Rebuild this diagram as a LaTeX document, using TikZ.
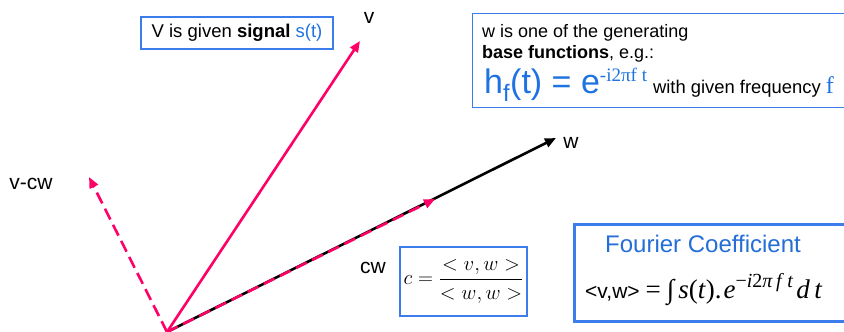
\documentclass[tikz,border=0pt]{standalone}
\usepackage{fontspec}
\setmainfont{Liberation Sans}
\newfontfamily\serifface{Liberation Serif}
\usetikzlibrary{arrows.meta}
\definecolor{pinkv}{RGB}{255,0,102}
\definecolor{boxblue}{RGB}{60,125,235}
\definecolor{tblue}{RGB}{30,115,225}
\definecolor{fblue}{RGB}{35,110,215}
\tikzset{
  vec/.style={line width=2.6pt, -{Triangle[length=11pt,width=9pt]}},
  pinkvec/.style={vec, pinkv},
  dashvec/.style={vec, pinkv, dash pattern=on 12pt off 6pt},
  lbl/.style={font=\fontsize{21}{24}\selectfont, inner sep=0pt},
  thinbox/.style={draw=boxblue, line width=1.4pt, fill=white, inner sep=0pt},
  thickbox/.style={draw=boxblue, line width=3pt, fill=white, inner sep=0pt},
}
\begin{document}
\begin{tikzpicture}[x=1pt,y=-1pt]
\useasboundingbox[fill=white] (0,0) rectangle (844,332);
% points
\coordinate (O) at (167,332);
\coordinate (Vt) at (360,41);
\coordinate (Wt) at (556,138);
\coordinate (CWt) at (435,199);
\coordinate (VCWt) at (89,177);
% vectors
\draw[vec, black] (O) -- (Wt);
\draw[dashvec] (O) -- (CWt);
\draw[pinkvec] (O) -- (Vt);
\draw[dashvec] (O) -- (VCWt);
% labels
\node[lbl] (lV) at (369,18) {v};
\node[lbl] (lW) at (571,143) {w};
\node[lbl] (lVCW) at (31,184) {v-cw};
\node[lbl] (lCW) at (373,268) {cw};
% signal box
\node[thinbox, minimum width=192pt, minimum height=32pt,
      font=\fontsize{18.5}{22}\selectfont] (sig) at (237,33)
  {V is given \textbf{signal} \textcolor{tblue}{s(t)}};
% base function box
\node[thinbox, anchor=north west, minimum width=380pt, minimum height=94pt] (base) at (472,13) {};
\node[anchor=base west, inner sep=0pt, font=\fontsize{18}{20}\selectfont] (b1) at (482,37) {w is one of the generating};
\node[anchor=base west, inner sep=0pt, font=\fontsize{18}{20}\selectfont] (b2) at (482,58) {\textbf{base functions}, e.g.:};
\node[anchor=base west, inner sep=0pt] (b3) at (484,93)
  {{\color{tblue}\fontsize{34}{36}\selectfont h\textsubscript{f}(t) = e\raisebox{12pt}{\serifface\fontsize{19}{21}\selectfont -i2πf t}}\hspace{6pt}{\fontsize{18.4}{20}\selectfont with given frequency }{\color{tblue}\serifface\fontsize{24}{24}\selectfont f}};
% c box
\node[thinbox, minimum width=127pt, minimum height=69pt,
      font=\fontsize{21}{24}\selectfont] (cbox) at (463.5,281.5)
  {$\displaystyle c=\frac{<v,w>}{<w,w>}$};
% Fourier box
\node[thickbox, anchor=north west, minimum width=285pt, minimum height=97pt] (four) at (573,223) {};
\node[inner sep=0pt, font=\fontsize{24}{28}\selectfont, text=fblue] (ftitle) at (703,244) {Fourier Coefficient};
\node[anchor=base west, inner sep=0pt] (fform) at (585,298)
  {{\fontsize{21}{24}\selectfont <v,w>}\hspace{6pt}{\serifface\fontsize{27}{29}\selectfont =\hspace{6pt}∫\hspace{4pt}\textit{s}(\textit{t}).\hspace{2pt}\textit{e}\raisebox{11pt}{\fontsize{20}{21}\selectfont −\textit{i}2\textit{π}\,\textit{f}\,\textit{t}}\hspace{3pt}\textit{d}\,\textit{t}}};
\end{tikzpicture}
\end{document}
